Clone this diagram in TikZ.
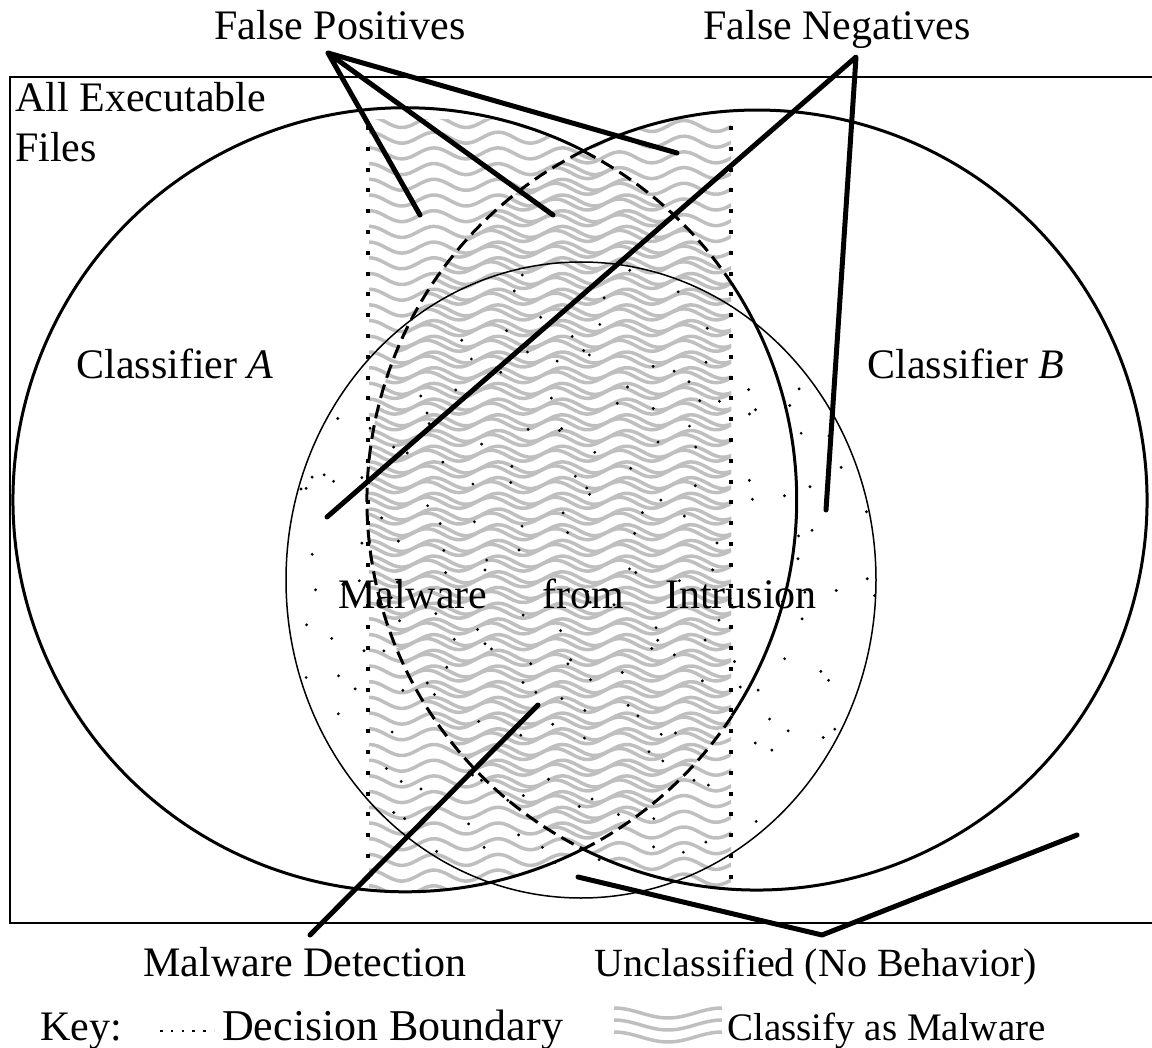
\documentclass[tikz,border=0pt]{standalone}
\usepackage{fontspec}
\setmainfont{Liberation Serif}
\usepackage{xcolor}
\usepackage{tikz}
\definecolor{wavegray}{HTML}{BFBFBF}

\begin{document}
\begin{tikzpicture}[x=1pt, y=-1pt,
    lbl/.style={font=\fontsize{42}{48}\selectfont, inner sep=0pt},
    pointer/.style={line width=5pt, line cap=round, line join=round},
    wave/.style={wavegray, line width=3.5pt},
    boundary/.style={line width=4pt, dash pattern=on 4pt off 16.8pt},
    ring/.style={line width=3pt},
    innerring/.style={dash pattern=on 14pt off 7pt}]
  \useasboundingbox (0,0) rectangle (1152,1048);

  % all executable files
  \draw[line width=2pt] (10,77) rectangle (1160,923);

  % classify as malware: stripes inside each classifier
  \begin{scope}
    \clip (369,120) rectangle (731,891);
    \begin{scope}
      \clip (405,500) circle [radius=392];
      \foreach \r in {0,...,49}
        \draw[wave] plot[domain=360:740, samples=70, smooth]
          (\x, {122+15.7*\r+5.5*sin(5.6*\x)});
    \end{scope}
    \begin{scope}
      \clip (757,500) circle [radius=390];
      \foreach \r in {0,...,49}
        \draw[wave] plot[domain=360:740, samples=70, smooth]
          (\x, {126+15.7*\r+5.5*sin(5.6*\x+40)});
    \end{scope}
  \end{scope}

  % malware from intrusion (dots)
  \pgfmathsetseed{23}
  \begin{scope}
    \clip (581,580) ellipse [x radius=295, y radius=318];
    \foreach \gx in {0,...,15}
      \foreach \gy in {0,...,16} {
        \pgfmathsetmacro\px{286+37*\gx+37*rnd}
        \pgfmathsetmacro\py{262+37.5*\gy+37*rand}
        \fill (\px,\py) circle [radius=1.6];
      }
  \end{scope}
  \draw[line width=1.5pt] (581,580) ellipse [x radius=295, y radius=318];

  % classifier A
  \draw[ring] (583,849) arc [start angle=63, end angle=297, radius=392];
  \draw[ring] (732,284) arc [start angle=-33.4, end angle=33.4, radius=392];
  \draw[ring, innerring] (583,151) arc [start angle=-63, end angle=-33.4, radius=392];
  \draw[ring, innerring] (732,716) arc [start angle=33.4, end angle=63, radius=392];

  % classifier B
  \draw[ring] (583,849) arc [start angle=116.5, end angle=-116.5, radius=390];
  \draw[ring, innerring] (583,151) arc [start angle=243.5, end angle=116.5, radius=390];

  % decision boundaries
  \coordinate (dbl top) at (368,126);
  \coordinate (dbl bot) at (368,890);
  \coordinate (dbr top) at (731,126);
  \coordinate (dbr bot) at (731,890);
  \draw[boundary] (dbl top) -- (dbl bot);
  \draw[boundary] (dbr top) -- (dbr bot);

  % labels
  \node[lbl, anchor=base west] (allexec) at (15,112) {All Executable};
  \node[lbl, anchor=base west] (files) at (15,162) {Files};
  \node[lbl, anchor=base] (fplabel) at (340,40) {False Positives};
  \node[lbl, anchor=base] (fnlabel) at (837,40) {False Negatives};
  \node[lbl, anchor=base] (clsa) at (175,379) {Classifier \textit{A}};
  \node[lbl, anchor=base] (clsb) at (966,379) {Classifier \textit{B}};
  \node[lbl, anchor=base west] (intrusion) at (338,608)
    {Malware\hspace{55pt}from\hspace{41pt}Intrusion};
  \node[lbl, anchor=base] (mdlabel) at (305,976) {Malware Detection};
  \node[lbl, anchor=base, font=\fontsize{40}{48}\selectfont] (unclabel)
    at (816,976) {Unclassified (No Behavior)};

  % pointers
  \coordinate (fp) at (328,53);
  \coordinate (fp1) at (420,215);
  \coordinate (fp2) at (553,215);
  \coordinate (fp3) at (677,153);
  \coordinate (fn) at (856,57);
  \coordinate (fn1) at (327,517);
  \coordinate (fn2) at (826,510);
  \coordinate (md) at (310,935);
  \coordinate (md1) at (538,705);
  \coordinate (unc) at (822,935);
  \coordinate (unc1) at (578,877);
  \coordinate (unc2) at (1077,835);
  \draw[pointer] (fp1) -- (fp) -- (fp2);
  \draw[pointer] (fp) -- (fp3);
  \draw[pointer] (fn1) -- (fn) -- (fn2);
  \draw[pointer] (md) -- (md1);
  \draw[pointer] (unc1) -- (unc) -- (unc2);

  % key
  \node[lbl, anchor=base west] (key) at (40,1040) {Key:};
  \coordinate (kd1) at (160,1031);
  \coordinate (kd2) at (214,1031);
  \draw[line width=2.5pt, dash pattern=on 2.5pt off 8.3pt] (kd1) -- (kd2);
  \node[lbl, anchor=base west, font=\fontsize{44}{48}\selectfont] (keydb)
    at (222,1040) {Decision Boundary};
  \foreach \r in {0,1,2}
    \draw[wave] plot[domain=614:722, samples=40, smooth]
      (\x, {1013+12*\r-5*cos(3.333*(\x-614))});
  \node[lbl, anchor=base west, font=\fontsize{39}{48}\selectfont] (keycm)
    at (727,1040) {Classify as Malware};
\end{tikzpicture}
\end{document}
